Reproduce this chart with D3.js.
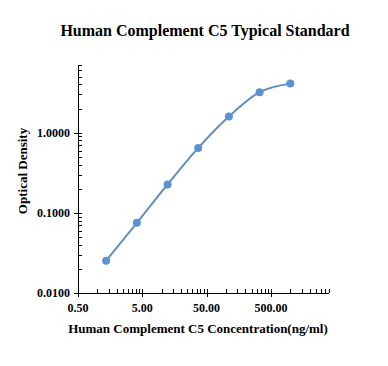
<!DOCTYPE html>
<html><head><meta charset="utf-8">
<script src="https://cdn.jsdelivr.net/npm/d3@7"></script>
<style>body{margin:0;background:#fff}svg{display:block}</style>
</head><body><svg id="c" width="388" height="366"></svg>
<script>
const concentrations = [1.37, 4.12, 12.35, 37.04, 111.1, 333.3, 1000];
const odValues = [0.0253, 0.0752, 0.226, 0.646, 1.59, 3.2, 4.1];
const xMajorTicks = [0.5, 5, 50, 500];
const xTickLabels = ["0.50", "5.00", "50.00", "500.00"];
const yMajorTicks = [0.01, 0.1, 1];
const yTickLabels = ["0.0100", "0.1000", "1.0000"];
const xDomain = [0.5, 4000];
const yDomain = [0.01, 7];
const title = "Human Complement C5 Typical Standard";
const xTitle = "Human Complement C5 Concentration(ng/ml)";
const yTitle = "Optical Density";

const svg = d3.select("#c");
const font = "'Liberation Serif','Times New Roman',serif";
const x = d3.scaleLog().domain(xDomain).range([78, 329]);
const y = d3.scaleLog().domain(yDomain).range([293, 65]);

// minor ticks
const xMinor = [];
xMajorTicks.forEach(b => { for (let m = 2; m <= 9; m++) { const v = b*m; if (v <= xDomain[1]*1.0001) xMinor.push(v); } });
const yMinor = [];
yMajorTicks.forEach(b => { for (let m = 2; m <= 9; m++) { const v = b*m; if (v <= yDomain[1]*1.0001) yMinor.push(v); } });

const ax = svg.append("g").attr("stroke", "#000").attr("stroke-width", 1);
ax.append("line").attr("x1", x(xDomain[0])).attr("x2", x(xDomain[1])).attr("y1", 293.5).attr("y2", 293.5);
ax.append("line").attr("x1", 78.5).attr("x2", 78.5).attr("y1", y(yDomain[1])).attr("y2", 293);
xMinor.forEach(v => ax.append("line").attr("x1", Math.round(x(v))+0.5).attr("x2", Math.round(x(v))+0.5).attr("y1", 293).attr("y2", 289));
xMajorTicks.forEach(v => ax.append("line").attr("x1", Math.round(x(v))+0.5).attr("x2", Math.round(x(v))+0.5).attr("y1", 289).attr("y2", 297));
yMinor.forEach(v => ax.append("line").attr("y1", Math.round(y(v))+0.5).attr("y2", Math.round(y(v))+0.5).attr("x1", 78).attr("x2", 82));
yMajorTicks.forEach(v => ax.append("line").attr("y1", Math.round(y(v))+0.5).attr("y2", Math.round(y(v))+0.5).attr("x1", 74).attr("x2", 82));

svg.selectAll(".xl").data(xMajorTicks).enter().append("text")
  .attr("x", d => x(d)).attr("y", 312).attr("text-anchor", "middle")
  .attr("font-family", font).attr("font-weight", "bold").attr("font-size", 12)
  .text((d, i) => xTickLabels[i]);
svg.selectAll(".yl").data(yMajorTicks).enter().append("text")
  .attr("x", 70).attr("y", d => y(d) + 4).attr("text-anchor", "end")
  .attr("font-family", font).attr("font-weight", "bold").attr("font-size", 12)
  .text((d, i) => yTickLabels[i]);

svg.append("text").attr("x", 205).attr("y", 36).attr("text-anchor", "middle")
  .attr("font-family", font).attr("font-weight", "bold").attr("font-size", 16).text(title);
svg.append("text").attr("x", 198).attr("y", 333).attr("text-anchor", "middle")
  .attr("font-family", font).attr("font-weight", "bold").attr("font-size", 13).text(xTitle);
svg.append("text").attr("transform", "translate(27,171) rotate(-90)").attr("text-anchor", "middle")
  .attr("font-family", font).attr("font-weight", "bold").attr("font-size", 13).text(yTitle);

const pts = concentrations.map((c, i) => [x(c), y(odValues[i])]);
svg.append("path").attr("d", d3.line().curve(d3.curveMonotoneX)(pts))
  .attr("fill", "none").attr("stroke", "#5f8ec3").attr("stroke-width", 2);
svg.selectAll(".pt").data(pts).enter().append("circle")
  .attr("cx", d => d[0]).attr("cy", d => d[1]).attr("r", 4)
  .attr("fill", "#5b92cf");
</script></body></html>
